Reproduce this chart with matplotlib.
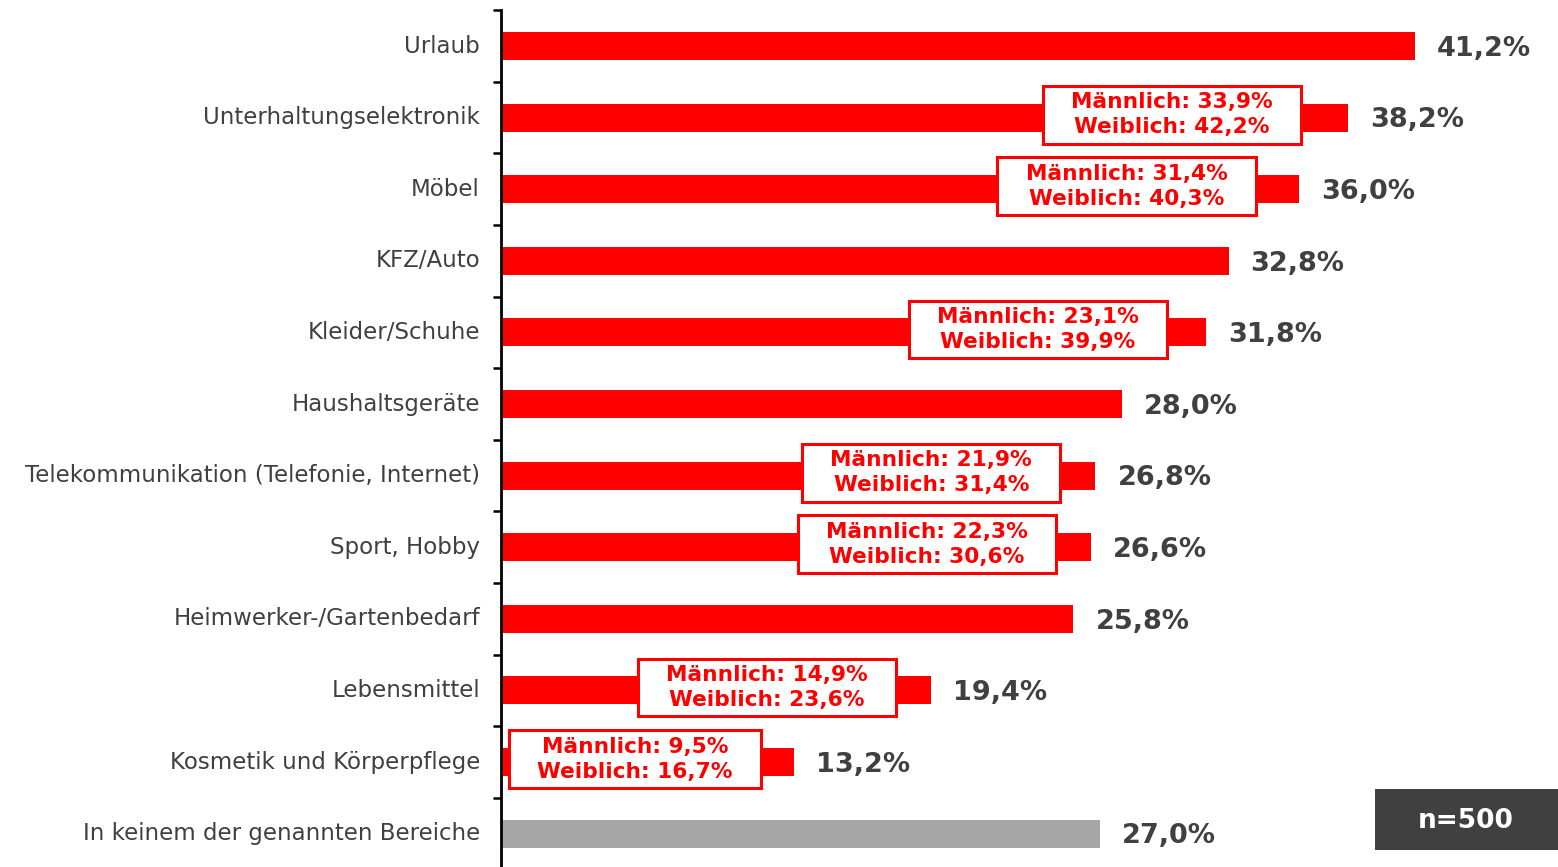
import matplotlib.pyplot as plt
from matplotlib.patches import Rectangle
from matplotlib.path import Path
import numpy as np

categories = ['Urlaub', 'Unterhaltungselektronik', 'Möbel', 'KFZ/Auto',
              'Kleider/Schuhe', 'Haushaltsgeräte',
              'Telekommunikation (Telefonie, Internet)', 'Sport, Hobby',
              'Heimwerker-/Gartenbedarf', 'Lebensmittel',
              'Kosmetik und Körperpflege', 'In keinem der genannten Bereiche']
values = [41.2, 38.2, 36.0, 32.8, 31.8, 28.0, 26.8, 26.6, 25.8, 19.4, 13.2, 27.0]

# gender split (only for some categories)
maennlich = [None, 33.9, 31.4, None, 23.1, None, 21.9, 22.3, None, 14.9, 9.5, None]
weiblich = [None, 42.2, 40.3, None, 39.9, None, 31.4, 30.6, None, 23.6, 16.7, None]

# centre of the split boxes, in % units (layout only)
box_x = [None, 30.25, 28.2, None, 24.2, None, 19.4, 19.2, None, 12.0, 6.05, None]

RED = '#ff0000'
DARK = '#404040'


def wide_box(x0, y0, width, height, mutation_size):
    # rectangle with more padding left/right than top/bottom
    px = 1.3 * mutation_size
    py = 0.3 * mutation_size
    return Path([(x0 - px, y0 - py), (x0 + width + px, y0 - py),
                 (x0 + width + px, y0 + height + py), (x0 - px, y0 + height + py),
                 (x0 - px, y0 - py)], closed=True)


fig = plt.figure(figsize=(15.58, 8.67), dpi=100)
ax = fig.add_axes([501 / 1558, 0, 1 - 501 / 1558, 1])

y = np.arange(len(categories))
colors = [RED] * (len(categories) - 1) + ['#a6a6a6']
ax.barh(y, values, height=0.39, color=colors)

ax.set_xlim(0, (1558 - 501) / 22.18)
ybottom = -46 / 71.6 + 867 / 71.6
ax.set_ylim(ybottom, -46 / 71.6)

for i, (cat, v) in enumerate(zip(categories, values)):
    ax.text(-0.95, i, cat, ha='right', va='center', fontsize=16.5, color=DARK)
    ax.text(v + 1.0, i + 0.04, f'{v:.1f}%'.replace('.', ','), ha='left',
            va='center', fontsize=19.5, fontweight='bold', color=DARK)
    if maennlich[i] is not None:
        txt = (f'Männlich: {maennlich[i]:.1f}%\nWeiblich: {weiblich[i]:.1f}%'
               .replace('.', ','))
        ax.text(box_x[i], i - 0.04, txt, ha='center', va='center', fontsize=15.6,
                fontweight='bold', color=RED, linespacing=1.3,
                bbox=dict(boxstyle=wide_box, fc='white', ec=RED, lw=2.2))

for s in ['top', 'right', 'bottom']:
    ax.spines[s].set_visible(False)
ax.spines['left'].set_linewidth(2)
ax.spines['left'].set_bounds(-0.5, ybottom)
ax.set_xticks([])
ax.set_yticks(np.arange(-0.5, len(categories) - 1, 1))
ax.set_yticklabels([])
ax.tick_params(axis='y', length=6, width=1.8, direction='out')

fig.add_artist(Rectangle((1375 / 1558, 17 / 867), 183 / 1558, 61 / 867,
                         transform=fig.transFigure, fc=DARK, ec='none'))
fig.text(1466 / 1558, 1 - 821 / 867, 'n=500', ha='center', va='center',
         fontsize=19, fontweight='bold', color='white')

fig.savefig('out.png', dpi=100)
